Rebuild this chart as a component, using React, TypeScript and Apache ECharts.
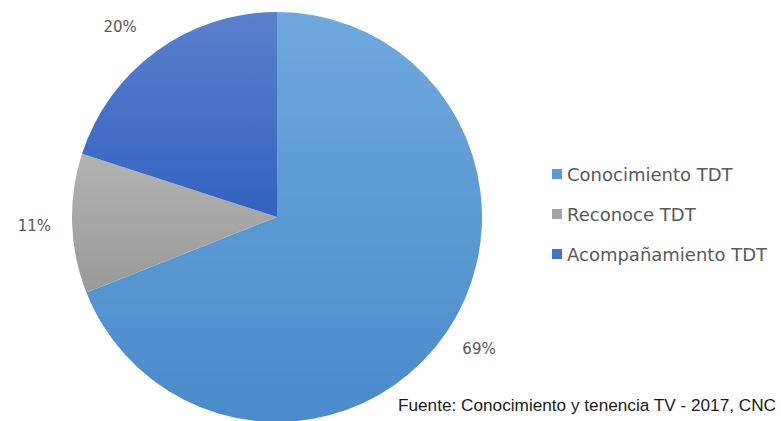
import React, { useEffect, useRef } from "react";
import * as echarts from "echarts";

const categories = ["Conocimiento TDT", "Reconoce TDT", "Acompañamiento TDT"];
const values = [69, 11, 20];
const gradientTop = ["#6fa8dc", "#b3b3b3", "#5b80cd"];
const gradientBottom = ["#4a8bcb", "#999999", "#3262be"];
const legendColors = ["#5b9bd5", "#a5a5a5", "#4472c4"];
const labelShiftX = [-13, 13, 2];
const labelShiftY = [0, 2, 0];
const sourceText = "Fuente: Conocimiento y tenencia TV - 2017, CNC";

export default function App() {
  const ref = useRef<HTMLDivElement>(null);
  useEffect(() => {
    if (!ref.current) return;
    const chart = echarts.init(ref.current, undefined, { renderer: "svg" });
    chart.setOption({
      animation: false,
      backgroundColor: "#ffffff",
      legend: {
        orient: "vertical",
        left: 547,
        top: 160,
        itemWidth: 10,
        itemHeight: 10,
        itemGap: 22,
        icon: "rect",
        textStyle: { fontFamily: "DejaVu Sans", fontSize: 18, color: "#595959", padding: [0, 0, 0, 0] },
        data: categories.map((c, i) => ({ name: c, itemStyle: { color: legendColors[i] } })),
      },
      graphic: [
        {
          type: "text",
          x: 398,
          y: 413,
          style: {
            text: sourceText,
            fontFamily: "Liberation Sans",
            fontSize: 17.2,
            fill: "#1a1a1a",
            textVerticalAlign: "bottom",
            verticalAlign: "alphabetic",
          },
        },
      ],
      series: [
        {
          type: "pie",
          center: [277, 217],
          radius: [0, 205],
          startAngle: 90,
          clockwise: true,
          avoidLabelOverlap: false,
          label: {
            show: true,
            position: "outside",
            formatter: "{c}%",
            fontFamily: "DejaVu Sans",
            fontSize: 15,
            color: "#595959",
            distanceToLabelLine: 4,
          },
          labelLine: { show: false, length: 30, length2: 0 },
          labelLayout: (p: any) => ({ dx: labelShiftX[p.dataIndex], dy: labelShiftY[p.dataIndex] }),
          emphasis: { disabled: true },
          data: categories.map((c, i) => ({
            name: c,
            value: values[i],
            itemStyle: {
              color: {
                type: "linear",
                x: 0,
                y: 0,
                x2: 0,
                y2: 1,
                colorStops: [
                  { offset: 0, color: gradientTop[i] },
                  { offset: 1, color: gradientBottom[i] },
                ],
              },
            },
          })),
        },
      ],
    });
    return () => chart.dispose();
  }, []);
  return (
    <div
      ref={ref}
      style={{ position: "fixed", left: 0, top: 0, width: 781, height: 421 }}
    />
  );
}
